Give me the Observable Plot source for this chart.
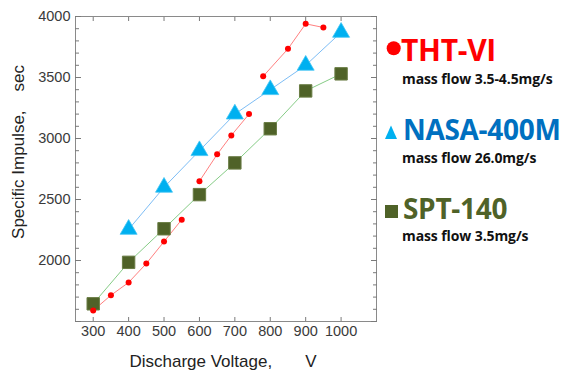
<!DOCTYPE html>
<html>
<head>
<meta charset="utf-8">
<script src="https://cdn.jsdelivr.net/npm/d3@7"></script>
<script src="https://cdn.jsdelivr.net/npm/@observablehq/plot@0.6"></script>
<style>
  html, body { margin: 0; padding: 0; background: #fff; }
  #wrap { position: relative; width: 568px; height: 372px; overflow: hidden; }
  #overlay { position: absolute; left: 0; top: 0; pointer-events: none; }
</style>
</head>
<body>
<div id="wrap"></div>
<script>
// ---- data ----
const thtVoltage = [300, 350, 400, 450, 500, 550, 600, 650, 690, 740, 780, 850, 900, 950];
const thtIsp     = [1590, 1715, 1820, 1975, 2155, 2335, 2650, 2870, 3025, 3200, 3510, 3735, 3940, 3910];
const thtSegment = [0, 0, 0, 0, 0, 0, 1, 1, 1, 1, 2, 2, 2, 2];

const nasaVoltage = [400, 500, 600, 700, 800, 900, 1000];
const nasaIsp     = [2255, 2600, 2900, 3200, 3400, 3600, 3870];

const sptVoltage = [300, 400, 500, 600, 700, 800, 900, 1000];
const sptIsp     = [1645, 1985, 2260, 2540, 2800, 3080, 3390, 3530];

const xTickLabels = [300, 400, 500, 600, 700, 800, 900, 1000];
const yTickLabels = [2000, 2500, 3000, 3500, 4000];
const yMajorTicks = [1500, 2000, 2500, 3000, 3500, 4000];
const yMinorTicks = d3.range(1500, 4001, 100);

const xLabel = "Discharge Voltage,\u00a0\u00a0\u00a0\u00a0\u00a0\u00a0\u00a0V";
const yLabel = "Specific Impulse,\u00a0\u00a0\u00a0\u00a0sec";

const legendItems = [
  {name: "THT-VI", flow: "mass flow 3.5-4.5mg/s"},
  {name: "NASA-400M", flow: "mass flow 26.0mg/s"},
  {name: "SPT-140", flow: "mass flow 3.5mg/s"}
];

// ---- tables ----
const tht = thtVoltage.map((v, i) => ({v, isp: thtIsp[i], seg: thtSegment[i]}));
const nasa = nasaVoltage.map((v, i) => ({v, isp: nasaIsp[i]}));
const spt = sptVoltage.map((v, i) => ({v, isp: sptIsp[i]}));

const tickFont = {fontSize: 14.5, fontFamily: "Liberation Sans, Arial, sans-serif", fill: "#3a3a3a", tickFormat: d => String(d)};

const chart = Plot.plot({
  width: 568,
  height: 372,
  marginTop: 16,
  marginRight: 192,
  marginBottom: 51,
  marginLeft: 75,
  style: {background: "white", fontFamily: "Liberation Sans, Arial, sans-serif"},
  x: {domain: [250, 1100]},
  y: {domain: [1500, 4000]},
  marks: [
    Plot.frame({stroke: "#8a8a8a", strokeWidth: 1}),
    // tick labels
    Plot.axisX(xTickLabels, {anchor: "bottom", tickSize: 0, tickPadding: 4, label: null, ...tickFont}),
    Plot.axisY(yTickLabels, {anchor: "left", tickSize: 0, tickPadding: 5, label: null, ...tickFont}),
    // inward tick marks
    Plot.axisX(xTickLabels, {anchor: "bottom", tickSize: -4, text: null, label: null, stroke: "#7a7a7a"}),
    Plot.axisX(xTickLabels, {anchor: "top", tickSize: -4, text: null, label: null, stroke: "#7a7a7a"}),
    Plot.axisY(yMinorTicks, {anchor: "left", tickSize: -4, text: null, label: null, stroke: "#7a7a7a"}),
    Plot.axisY(yMinorTicks, {anchor: "right", tickSize: -4, text: null, label: null, stroke: "#7a7a7a"}),
    Plot.axisY(yMajorTicks, {anchor: "left", tickSize: -6, text: null, label: null, stroke: "#7a7a7a"}),
    Plot.axisY(yMajorTicks, {anchor: "right", tickSize: -6, text: null, label: null, stroke: "#7a7a7a"}),
    // lines
    Plot.line(spt, {x: "v", y: "isp", stroke: "#86cc86", strokeWidth: 1}),
    Plot.line(nasa, {x: "v", y: "isp", stroke: "#7dbdf5", strokeWidth: 1}),
    Plot.line(tht, {x: "v", y: "isp", z: "seg", stroke: "#ff8080", strokeWidth: 1}),
    // markers
    Plot.dot(spt, {x: "v", y: "isp", symbol: "square", r: 7, fill: "#4f6228", stroke: "#6a7d45", strokeWidth: 1}),
    Plot.dot(nasa, {x: "v", y: "isp", symbol: "triangle", r: 6.3, fill: "#00b0f0", stroke: "#40c4f4", strokeWidth: 0.8}),
    Plot.dot(tht, {x: "v", y: "isp", r: 3, fill: "#ff0000", stroke: "none"})
  ]
});

const wrap = document.getElementById("wrap");
wrap.appendChild(chart);

// ---- overlay: axis titles and legend ----
const svg = d3.select(wrap).append("svg")
  .attr("id", "overlay")
  .attr("width", 568).attr("height", 372);

svg.append("text")
  .attr("x", 223).attr("y", 367)
  .attr("text-anchor", "middle")
  .attr("font-family", "Liberation Sans, Arial, sans-serif")
  .attr("font-size", 17).attr("fill", "#222")
  .text(xLabel);

svg.append("text")
  .attr("transform", "translate(24,152) rotate(-90)")
  .attr("text-anchor", "middle")
  .attr("font-family", "Liberation Sans, Arial, sans-serif")
  .attr("font-size", 17).attr("fill", "#222")
  .text(yLabel);

const nameColors = ["#ff0000", "#0070c0", "#4f6228"];
const nameSizes = [30, 28, 28];
const nameBaselines = [61, 140, 219];
const flowBaselines = [84, 162.5, 240.5];
const nameX = [401, 403, 403];

legendItems.forEach((d, i) => {
  svg.append("text")
    .attr("x", nameX[i]).attr("y", nameBaselines[i])
    .attr("font-family", "Open Sans, sans-serif").attr("font-weight", 700)
    .attr("font-size", nameSizes[i]).attr("fill", nameColors[i])
    .attr("letter-spacing", -0.3)
    .text(d.name);
  svg.append("text")
    .attr("x", 402).attr("y", flowBaselines[i])
    .attr("font-family", "Open Sans, sans-serif").attr("font-weight", 700)
    .attr("font-size", 14).attr("fill", "#111")
    .attr("letter-spacing", -0.1)
    .text(d.flow);
});

// legend symbols
svg.append("circle").attr("cx", 393.7).attr("cy", 48.3).attr("r", 7).attr("fill", "#ff0000");
svg.append("path").attr("d", "M385,139L397,139L391,125.5Z").attr("fill", "#00b0f0");
svg.append("rect").attr("x", 385).attr("y", 205).attr("width", 13).attr("height", 13).attr("fill", "#4f6228");
</script>
</body>
</html>
